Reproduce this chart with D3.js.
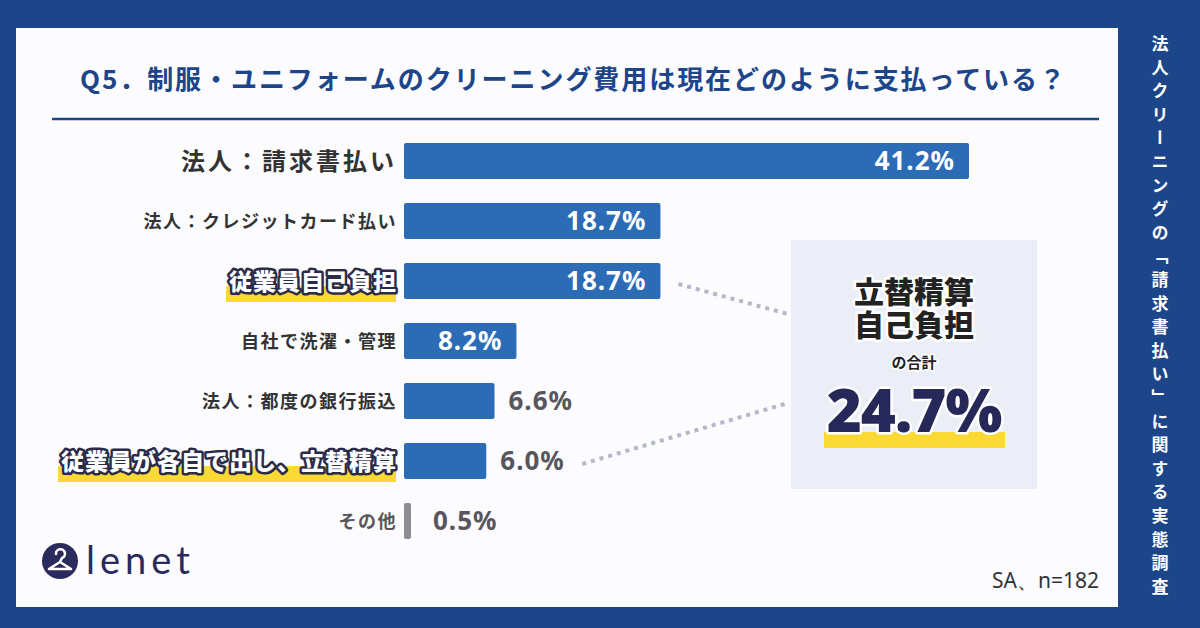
<!DOCTYPE html>
<html><head><meta charset="utf-8">
<script src="https://cdn.jsdelivr.net/npm/d3@7"></script>
<style>
html,body{margin:0;padding:0;background:#1d4589;}
svg{display:block;font-family:"Noto Sans CJK JP","Noto Sans",sans-serif;}
</style></head>
<body><svg id="c" width="1200" height="628"></svg>
<script>
const title = "Q5．制服・ユニフォームのクリーニング費用は現在どのように支払っている？";
const sideTitle = "法人クリーニングの「請求書払い」に関する実態調査";
const categories = ["法人：請求書払い","法人：クレジットカード払い","従業員自己負担","自社で洗濯・管理","法人：都度の銀行振込","従業員が各自で出し、立替精算","その他"];
const values = [41.2, 18.7, 18.7, 8.2, 6.6, 6.0, 0.5];
const leadCategory = "法人：請求書払い";
const highlightCategories = ["従業員自己負担","従業員が各自で出し、立替精算"];
const otherCategory = "その他";
const calloutLines = ["立替精算","自己負担"];
const calloutSub = "の合計";
const calloutTotal = 24.7;
const sampleNote = "SA、n=182";
const brand = "lenet";

const svg = d3.select("#c");
const navy = "#1d4589";
svg.append("rect").attr("width",1200).attr("height",628).attr("fill",navy);
svg.append("rect").attr("x",16).attr("y",28).attr("width",1102).attr("height",579).attr("fill","#fcfbfe");

// title
svg.append("text").attr("x",80).attr("y",89).attr("font-size",26).attr("font-weight",700)
  .attr("fill",navy).attr("textLength",985).attr("lengthAdjust","spacing").text(title);
svg.append("line").attr("x1",52).attr("x2",1099).attr("y1",119).attr("y2",119)
  .attr("stroke",navy).attr("stroke-width",2.5);

// side title
svg.append("text").attr("x",1160).attr("y",35)
  .style("writing-mode","vertical-rl").style("letter-spacing","6.6px")
  .attr("font-size",17).attr("font-weight",700).attr("fill","#fff").text(sideTitle);

// scales
const x = d3.scaleLinear().domain([0, 41.2]).range([404, 969]);
const y = d3.scaleBand().domain(categories).range([131, 551]).paddingInner(0.4).paddingOuter(0.2);
const data = categories.map((c,i)=>({c, v: values[i]}));
function c_w(d){ return Math.max(x(d.v)-x(0), 7); }

const g = svg.append("g");
g.selectAll("rect.bar").data(data).join("rect").attr("class","bar")
  .attr("x", x(0)).attr("y", d=>y(d.c)).attr("height", y.bandwidth())
  .attr("width", d=> c_w(d)).attr("rx",2)
  .attr("fill", d=> d.c===otherCategory ? "#8e8c92" : "#2c6cb6");

// value labels
g.selectAll("text.val").data(data).join("text").attr("class","val")
  .each(function(d){
    const inside = (x(d.v)-x(0)) > 100;
    const cy = y(d.c)+y.bandwidth()/2;
    d3.select(this)
      .attr("x", inside ? x(d.v)-14 : x(0)+c_w(d)+(d.v<1?22:14))
      .attr("y", cy+9)
      .attr("text-anchor", inside ? "end" : "start")
      .attr("fill", inside ? "#fff" : "#58565c")
      .attr("font-family","'Noto Sans','Open Sans',sans-serif")
      .attr("font-size",26).attr("font-weight",700).attr("letter-spacing",1)
      .text(d3.format(".1f")(d.v)+"%");
  });

// category labels
g.selectAll("g.lab").data(data).join("g").attr("class","lab").each(function(d){
  const sel = d3.select(this);
  const cy = y(d.c)+y.bandwidth()/2;
  const isHi = highlightCategories.includes(d.c);
  const isLead = d.c===leadCategory;
  const t = sel.append("text").attr("x",397).attr("text-anchor","end").text(d.c);
  if(isHi){
    t.attr("y",cy+9).attr("font-size",23).attr("font-weight",900).attr("letter-spacing",1)
     .attr("fill","#fff").attr("stroke","#2b2a48").attr("stroke-width",5)
     .attr("stroke-linejoin","round").attr("paint-order","stroke");
    const bb = t.node().getBBox();
    sel.insert("rect","text").attr("x",bb.x-3).attr("width",bb.width+2)
      .attr("y",cy+5).attr("height",16).attr("fill","#fbd934");
  } else if(isLead){
    t.attr("y",cy+9).attr("font-size",24).attr("font-weight",700).attr("letter-spacing",3).attr("fill","#333");
  } else {
    t.attr("y",cy+7).attr("font-size",18).attr("font-weight",700).attr("letter-spacing",1.5)
     .attr("fill", d.c===otherCategory ? "#58565c" : "#333");
  }
});

// callout box
svg.append("rect").attr("x",791).attr("y",240).attr("width",246).attr("height",249).attr("fill","#eceef7");
// dotted connectors
const conn = [[categories[2],[788,314]],[categories[5],[788,403]]];
conn.forEach(([c,to])=>{
  const d = data.find(e=>e.c===c);
  const cy = y(c)+y.bandwidth()/2;
  const inside = (x(d.v)-x(0))>100;
  const sx = inside ? x(d.v)+18 : x(d.v)+96;
  svg.append("line").attr("x1",sx).attr("y1",cy+3).attr("x2",to[0]).attr("y2",to[1])
    .attr("stroke","#b3b9c8").attr("stroke-width",4).attr("stroke-dasharray","4 5");
});
const cx = 914;
const ct = svg.append("text").attr("text-anchor","middle").attr("fill","#222")
  .attr("font-weight",900).attr("stroke","#fff").attr("stroke-linejoin","round").attr("paint-order","stroke");
calloutLines.forEach((l,i)=>{
  ct.append("tspan").attr("x",cx).attr("y",303+i*33).attr("font-size",30).attr("stroke-width",5).text(l);
});
ct.append("tspan").attr("x",cx).attr("y",368).attr("font-size",15).attr("font-weight",700)
  .attr("stroke-width",3).text(calloutSub);
svg.append("rect").attr("x",824).attr("y",432).attr("width",181).attr("height",16).attr("fill","#fbd934");
svg.append("text").attr("x",cx).attr("y",432).attr("text-anchor","middle")
  .attr("font-family","'Noto Sans',sans-serif")
  .attr("font-size",60).attr("font-weight",900).attr("fill","#26285a").attr("letter-spacing",-1)
  .attr("stroke","#fff").attr("stroke-width",5).attr("stroke-linejoin","round").attr("paint-order","stroke")
  .text(d3.format(".1f")(calloutTotal)+"%");

// note
svg.append("text").attr("x",1099).attr("y",588).attr("text-anchor","end")
  .attr("font-family","'Noto Sans',sans-serif").attr("font-size",21).attr("fill","#333").text(sampleNote);

// logo
const lg = svg.append("g").attr("transform","translate(60,561)");
lg.append("circle").attr("r",18).attr("fill","#2b2a5c");
lg.append("path").attr("d","M-4,-7 a4.5,4.5 0 1,1 6,4 L0,1 M-11,8 L0,1 L11,8 Z")
  .attr("fill","none").attr("stroke","#fff").attr("stroke-width",2.6).attr("stroke-linejoin","round").attr("stroke-linecap","round");
svg.append("text").attr("x",86).attr("y",574).attr("font-family","Lato,'Noto Sans',sans-serif")
  .attr("font-size",38).attr("font-weight",400).attr("letter-spacing",5).attr("fill","#2b2a5c").text(brand);
</script></body></html>
